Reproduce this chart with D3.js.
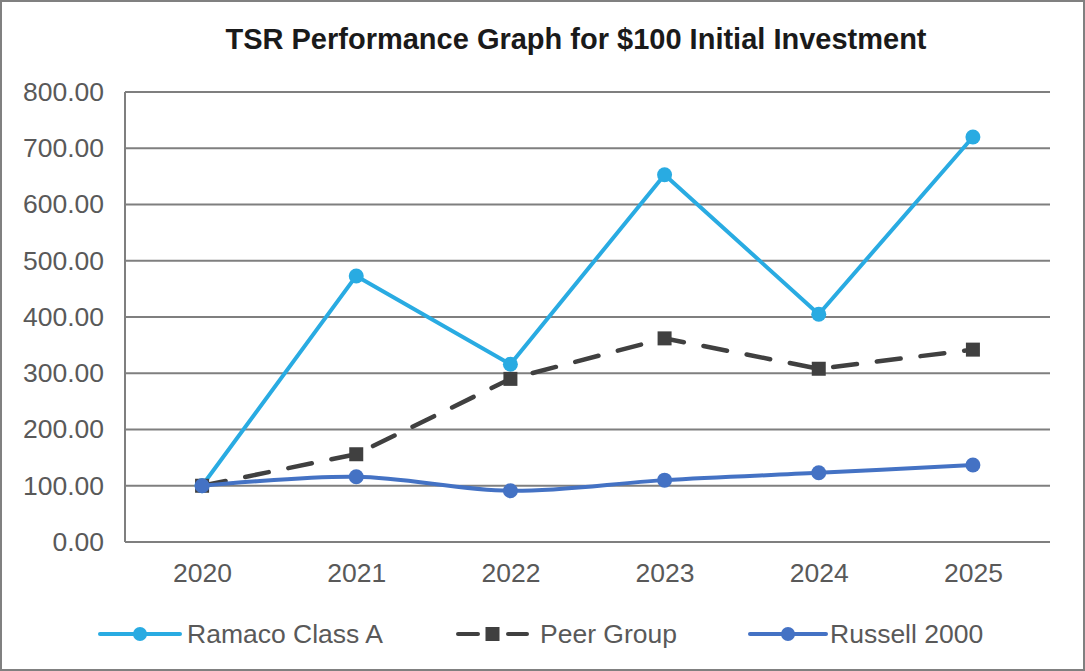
<!DOCTYPE html>
<html>
<head>
<meta charset="utf-8">
<script src="https://cdn.jsdelivr.net/npm/d3@7"></script>
<style>
  html, body { margin: 0; padding: 0; background: #fff; }
  svg { display: block; font-family: "Liberation Sans", Arial, sans-serif; }
</style>
</head>
<body>
<svg id="chart" width="1085" height="671"></svg>
<script>
// chart data
const years = ["2020", "2021", "2022", "2023", "2024", "2025"];
const ramaco = [100, 473, 316, 653, 405, 720];
const peer = [100, 156, 290, 362, 308, 342];
const russell = [100, 116, 91, 110, 123, 137];
const yTicks = [0, 100, 200, 300, 400, 500, 600, 700, 800];
const seriesNames = ["Ramaco Class A", "Peer Group", "Russell 2000"];

const svg = d3.select("#chart");
const width = +svg.attr("width");
const height = +svg.attr("height");
const margin = { top: 92, right: 35, bottom: 129, left: 125 };
const innerWidth = width - margin.left - margin.right;
const innerHeight = height - margin.top - margin.bottom;

// outer frame
svg.append("rect")
    .attr("x", 1).attr("y", 1)
    .attr("width", width - 2).attr("height", height - 2)
    .attr("fill", "#fff")
    .attr("stroke", "#808080")
    .attr("stroke-width", 2);

svg.append("text")
    .attr("x", 576)
    .attr("y", 49)
    .attr("text-anchor", "middle")
    .attr("font-size", 29)
    .attr("font-weight", "bold")
    .attr("fill", "#1a1a1a")
    .text("TSR Performance Graph for $100 Initial Investment");

const x = d3.scalePoint().domain(years).range([0, innerWidth]).padding(0.5);
const y = d3.scaleLinear().domain([0, 800]).range([innerHeight, 0]);

const g = svg.append("g").attr("transform", "translate(" + margin.left + "," + margin.top + ")");

// gridlines
g.selectAll(".grid")
    .data(yTicks)
    .enter().append("line")
    .attr("x1", 0).attr("x2", innerWidth)
    .attr("y1", d => y(d)).attr("y2", d => y(d))
    .attr("stroke", "#7f7f7f")
    .attr("stroke-width", 2);

g.append("line")
    .attr("x1", 0).attr("x2", 0)
    .attr("y1", 0).attr("y2", innerHeight)
    .attr("stroke", "#7f7f7f")
    .attr("stroke-width", 2);

// y axis labels
const yAxis = g.append("g")
    .call(d3.axisLeft(y).tickValues(yTicks).tickFormat(d3.format(".2f")).tickSize(0).tickPadding(21));
yAxis.attr("font-family", null).attr("font-size", null);
yAxis.select(".domain").remove();
yAxis.selectAll("text")
    .attr("font-size", 26.5)
    .attr("fill", "#595959");

// x axis labels
const xAxis = g.append("g")
    .attr("transform", "translate(0," + innerHeight + ")")
    .call(d3.axisBottom(x).tickSize(0).tickPadding(21));
xAxis.attr("font-family", null).attr("font-size", null);
xAxis.select(".domain").remove();
xAxis.selectAll("text")
    .attr("font-size", 26.5)
    .attr("fill", "#595959");

const lineStraight = d3.line()
    .x((d, i) => x(years[i]))
    .y(d => y(d));
const lineSmooth = d3.line()
    .x((d, i) => x(years[i]))
    .y(d => y(d))
    .curve(d3.curveCatmullRom.alpha(0.5));

// Ramaco
g.append("path")
    .datum(ramaco)
    .attr("fill", "none")
    .attr("stroke", "#29abe2")
    .attr("stroke-width", 4)
    .attr("stroke-linejoin", "round")
    .attr("d", lineStraight);
g.selectAll(".ramaco")
    .data(ramaco)
    .enter().append("circle")
    .attr("cx", (d, i) => x(years[i]))
    .attr("cy", d => y(d))
    .attr("r", 7.5)
    .attr("fill", "#29abe2");

// Peer group
g.append("path")
    .datum(peer)
    .attr("fill", "none")
    .attr("stroke", "#404040")
    .attr("stroke-width", 4.5)
    .attr("stroke-linecap", "round")
    .attr("stroke-dasharray", "24,20")
    .attr("d", lineStraight);
g.selectAll(".peer")
    .data(peer)
    .enter().append("rect")
    .attr("x", (d, i) => x(years[i]) - 7)
    .attr("y", d => y(d) - 7)
    .attr("width", 14)
    .attr("height", 14)
    .attr("fill", "#404040");

// Russell 2000
g.append("path")
    .datum(russell)
    .attr("fill", "none")
    .attr("stroke", "#4472c4")
    .attr("stroke-width", 4)
    .attr("d", lineSmooth);
g.selectAll(".russell")
    .data(russell)
    .enter().append("circle")
    .attr("cx", (d, i) => x(years[i]))
    .attr("cy", d => y(d))
    .attr("r", 7.5)
    .attr("fill", "#4472c4");

// legend
const legendY = 634;
const legend = svg.append("g");
const items = [
    { name: seriesNames[0], x0: 100, x1: 180, color: "#29abe2", marker: "circle", tx: 187, dash: null },
    { name: seriesNames[1], x0: 458, x1: 527, color: "#404040", marker: "square", tx: 540, dash: "20,30" },
    { name: seriesNames[2], x0: 750, x1: 826, color: "#4472c4", marker: "circle", tx: 830, dash: null }
];
items.forEach(it => {
    const mid = (it.x0 + it.x1) / 2;
    const ln = legend.append("line")
        .attr("x1", it.x0).attr("x2", it.x1)
        .attr("y1", legendY).attr("y2", legendY)
        .attr("stroke", it.color)
        .attr("stroke-width", 4)
        .attr("stroke-linecap", "round");
    if (it.dash) ln.attr("stroke-dasharray", it.dash);
    if (it.marker === "circle") {
        legend.append("circle").attr("cx", mid).attr("cy", legendY).attr("r", 7).attr("fill", it.color);
    } else {
        legend.append("rect").attr("x", mid - 7).attr("y", legendY - 7).attr("width", 14).attr("height", 14).attr("fill", it.color);
    }
    legend.append("text")
        .attr("x", it.tx)
        .attr("y", legendY + 9)
        .attr("font-size", 26.5)
        .attr("fill", "#595959")
        .text(it.name);
});
</script>
</body>
</html>
